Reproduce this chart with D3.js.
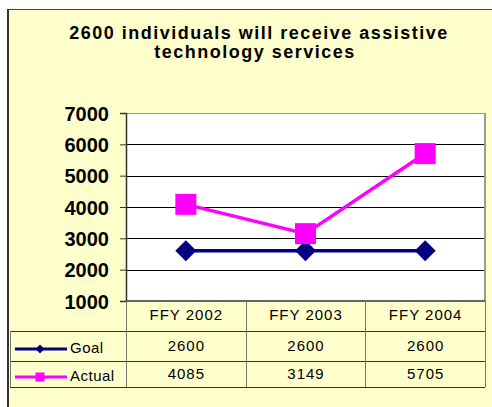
<!DOCTYPE html>
<html><head><meta charset="utf-8">
<script src="https://cdn.jsdelivr.net/npm/d3@7"></script>
<style>html,body{margin:0;padding:0;background:#fff;}svg{display:block;}</style>
</head><body>
<script>
const categories = ["FFY 2002", "FFY 2003", "FFY 2004"];
const goal = [2600, 2600, 2600];
const actual = [4085, 3149, 5705];
const yTicks = [1000, 2000, 3000, 4000, 5000, 6000, 7000];
const titleLines = ["2600 individuals will receive assistive", "technology services"];
const seriesNames = ["Goal", "Actual"];

(function () {
const W = 492, H = 407;
const svg = d3.select("body").append("svg").attr("width", W).attr("height", H);
const font = "'Liberation Sans', Arial, sans-serif";

// background
svg.append("rect").attr("x", 8).attr("y", 9).attr("width", W - 8).attr("height", H - 9).attr("fill", "#FFFFCC");
svg.append("line").attr("x1", 7).attr("x2", W).attr("y1", 9.5).attr("y2", 9.5).attr("stroke", "#444").attr("stroke-width", 1);
svg.append("line").attr("x1", 8).attr("x2", 8).attr("y1", 9).attr("y2", H).attr("stroke", "#333").attr("stroke-width", 2);

// title
svg.append("text").attr("x", 259).attr("y", 39).attr("text-anchor", "middle")
  .attr("font-family", font).attr("font-weight", "bold").attr("font-size", 18).attr("letter-spacing", 1.5)
  .text(titleLines[0]);
svg.append("text").attr("x", 255).attr("y", 58).attr("text-anchor", "middle")
  .attr("font-family", font).attr("font-weight", "bold").attr("font-size", 18).attr("letter-spacing", 1.5)
  .text(titleLines[1]);

const pLeft = 126, pRight = 485, pTop = 113, pBottom = 301;
const x = d3.scaleBand().domain(categories).range([pLeft, pRight]);
const y = d3.scaleLinear().domain([1000, 7000]).range([pBottom, pTop]);

// plot area
svg.append("rect").attr("x", pLeft).attr("y", pTop).attr("width", pRight - pLeft).attr("height", pBottom - pTop).attr("fill", "#fff");
// gridlines
svg.append("g").selectAll("line").data(yTicks.filter(d => d > 1000 && d < 7000)).join("line")
  .attr("x1", pLeft).attr("x2", pRight).attr("y1", d => Math.round(y(d)) + 0.5).attr("y2", d => Math.round(y(d)) + 0.5)
  .attr("stroke", "#000").attr("stroke-width", 1);
// plot borders
svg.append("line").attr("x1", pLeft).attr("x2", pRight).attr("y1", pTop + 0.5).attr("y2", pTop + 0.5).attr("stroke", "#999");
svg.append("line").attr("x1", pRight).attr("x2", pRight).attr("y1", pTop).attr("y2", pBottom).attr("stroke", "#999").attr("stroke-width", 2);

// y axis
const yAxis = d3.axisLeft(y).tickValues(yTicks).tickSize(6).tickPadding(11).tickFormat(d3.format("d"));
const ga = svg.append("g").attr("transform", `translate(${pLeft},0)`).call(yAxis);
ga.select(".domain").attr("stroke", "#333").attr("stroke-width", 1.5);
ga.selectAll(".tick line").attr("stroke", "#333");
ga.selectAll(".tick text").attr("font-family", font).attr("font-weight", "bold").attr("font-size", 20).attr("fill", "#000").attr("dy", "0.36em");
svg.append("line").attr("x1", pLeft).attr("x2", pRight).attr("y1", pBottom).attr("y2", pBottom).attr("stroke", "#333").attr("stroke-width", 1.5);

// series
const cx = d => x(d) + x.bandwidth() / 2;
const line = d3.line().x((d, i) => cx(categories[i])).y(d => y(d));
svg.append("path").datum(goal).attr("d", line).attr("fill", "none").attr("stroke", "#000080").attr("stroke-width", 3.5);
svg.append("path").datum(actual).attr("d", line).attr("fill", "none").attr("stroke", "#FF00FF").attr("stroke-width", 3.5);
const dsz = 10.5;
svg.append("g").selectAll("path").data(goal).join("path")
  .attr("d", (d, i) => { const px = cx(categories[i]), py = y(d); return `M${px},${py - dsz}L${px + dsz},${py}L${px},${py + dsz}L${px - dsz},${py}Z`; })
  .attr("fill", "#000080");
svg.append("g").selectAll("rect").data(actual).join("rect")
  .attr("x", (d, i) => cx(categories[i]) - 10.5).attr("y", d => y(d) - 10.5).attr("width", 21).attr("height", 21)
  .attr("fill", "#FF00FF");

// data table
const tLeft = 10;
const tg = svg.append("g");
[331, 361, 387].forEach(yy => tg.append("line").attr("x1", tLeft).attr("x2", pRight).attr("y1", yy + 0.5).attr("y2", yy + 0.5).attr("stroke", "#333"));
[pLeft, x(categories[1]), x(categories[2]), pRight].forEach(xx => tg.append("line").attr("x1", Math.round(xx) + 0.5).attr("x2", Math.round(xx) + 0.5).attr("y1", 301).attr("y2", 387).attr("stroke", "#777"));
tg.append("line").attr("x1", tLeft + 0.5).attr("x2", tLeft + 0.5).attr("y1", 331).attr("y2", 387).attr("stroke", "#777");

const tf = sel => sel.attr("font-family", font).attr("font-size", 15).attr("letter-spacing", 1).attr("fill", "#000");
tg.selectAll("text.cat").data(categories).join("text").attr("class", "cat")
  .attr("x", d => cx(d) + 0.5).attr("y", 320).attr("text-anchor", "middle").call(tf).text(d => d);
tg.selectAll("text.g").data(goal).join("text").attr("class", "g")
  .attr("x", (d, i) => cx(categories[i]) + 0.5).attr("y", 351).attr("text-anchor", "middle").call(tf).text(d => d);
tg.selectAll("text.a").data(actual).join("text").attr("class", "a")
  .attr("x", (d, i) => cx(categories[i]) + 0.5).attr("y", 379).attr("text-anchor", "middle").call(tf).text(d => d);

// legend keys
const legY = [349, 377];
const legColors = ["#000080", "#FF00FF"];
seriesNames.forEach((n, i) => {
  tg.append("line").attr("x1", 15).attr("x2", 67).attr("y1", legY[i]).attr("y2", legY[i]).attr("stroke", legColors[i]).attr("stroke-width", 3);
  if (i === 0) tg.append("path").attr("d", `M40,${legY[i] - 4.5}L44.5,${legY[i]}L40,${legY[i] + 4.5}L35.5,${legY[i]}Z`).attr("fill", legColors[i]);
  else tg.append("rect").attr("x", 35.5).attr("y", legY[i] - 4.5).attr("width", 9).attr("height", 9).attr("fill", legColors[i]);
  tg.append("text").attr("x", 70).attr("y", legY[i] + 4).call(tf).attr("letter-spacing", 0.5).text(n);
});
})();
</script>
</body></html>
